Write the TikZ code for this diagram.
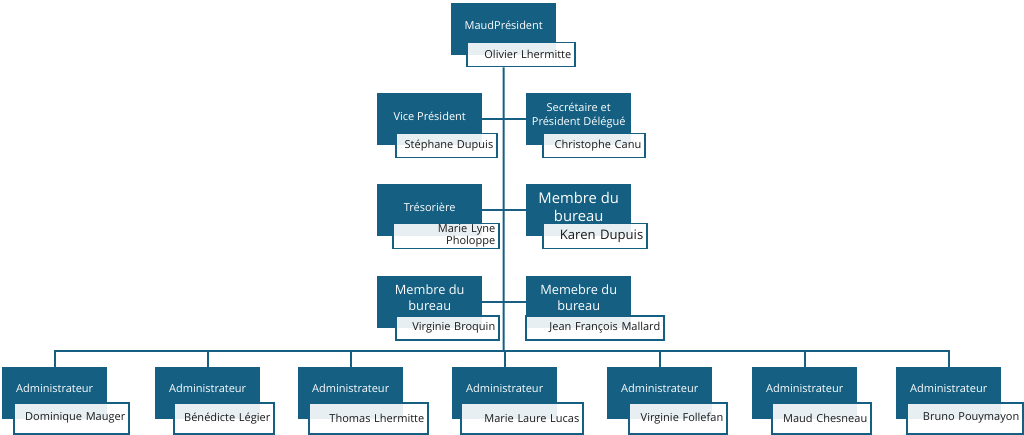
\documentclass[tikz,border=0pt]{standalone}
\usepackage{fontspec}
\setmainfont{Open Sans}
\definecolor{dk}{HTML}{156082}
\begin{document}
\begin{tikzpicture}[x=1pt,y=-1pt,
  dbox/.style={fill=dk, draw=none, anchor=north west, minimum width=105pt, minimum height=52pt, inner sep=0pt},
  ttl/.style={text=white, font=\fontsize{11}{14}\selectfont, align=center, inner sep=0pt},
  wbox/.style={draw=dk, line width=1.5pt, fill=white, fill opacity=0.9, text opacity=1, anchor=north west,
    align=right, inner xsep=3.5pt, inner ysep=0pt, font=\fontsize{11}{13}\selectfont, text=black!90},
  link/.style={draw=dk, line width=2pt}]
\useasboundingbox (0,0) rectangle (1024,435);

% top
\node[dbox] (p) at (451,3) {};
\node[ttl] (pt) at ([yshift=-22pt]p.north) {MaudPrésident};
\node[wbox, minimum width=108pt, minimum height=24pt, text width=101pt] (pw) at (466,42) {Olivier Lhermitte};

% row 2
\node[dbox] (vp) at (377,93) {};
\node[ttl] (vpt) at ([yshift=-23pt]vp.north) {Vice Président};
\node[wbox, minimum width=101pt, minimum height=24pt, text width=94pt] (vpw) at (395,133) {Stéphane Dupuis};
\node[dbox] (sec) at (526,93) {};
\node[ttl] (sect) at ([yshift=-23pt]sec.north) {Secrétaire et\\Président Délégué};
\node[wbox, minimum width=102pt, minimum height=24pt, text width=95pt] (secw) at (542,133) {Christophe Canu};

% row 3
\node[dbox] (tr) at (377,184) {};
\node[ttl] (trt) at ([yshift=-23pt]tr.north) {Trésorière};
\node[wbox, minimum width=106pt, minimum height=25pt, text width=99pt, font=\fontsize{11}{12}\selectfont] (trw) at (392,223) {Marie Lyne\\Pholoppe};
\node[dbox] (mb1) at (526,184) {};
\node[ttl, font=\fontsize{14.8}{18}\selectfont] (mb1t) at ([yshift=-23pt]mb1.north) {Membre du\\bureau};
\node[wbox, minimum width=104pt, minimum height=25pt, text width=97pt, font=\fontsize{13.1}{15}\selectfont] (mb1w) at (542,223) {Karen Dupuis};

% row 4
\node[dbox] (mb2) at (377,276) {};
\node[ttl, font=\fontsize{12.8}{16}\selectfont] (mb2t) at ([yshift=-22pt]mb2.north) {Membre du\\bureau};
\node[wbox, minimum width=103pt, minimum height=24pt, text width=96pt] (mb2w) at (395,315) {Virginie Broquin};
\node[dbox] (mb3) at (526,276) {};
\node[ttl, font=\fontsize{12.8}{16}\selectfont] (mb3t) at ([yshift=-22pt]mb3.north) {Memebre du\\bureau};
\node[wbox, minimum width=138pt, minimum height=24pt, text width=131pt] (mb3w) at (525,315) {Jean François Mallard};

% administrators
\node[dbox] (a1) at (2,367) {};
\node[ttl] (a1t) at ([yshift=-21pt]a1.north) {Administrateur};
\node[wbox, minimum width=115pt, minimum height=31pt, text width=108pt] (a1w) at (13,402) {Dominique Mauger};
\node[dbox] (a2) at (155,367) {};
\node[ttl] (a2t) at ([yshift=-21pt]a2.north) {Administrateur};
\node[wbox, minimum width=100pt, minimum height=31pt, text width=93pt] (a2w) at (173,402) {Bénédicte Légier};
\node[dbox] (a3) at (298,367) {};
\node[ttl] (a3t) at ([yshift=-21pt]a3.north) {Administrateur};
\node[wbox, minimum width=119pt, minimum height=31pt, text width=112pt] (a3w) at (308,402) {Thomas Lhermitte};
\node[dbox] (a4) at (452,367) {};
\node[ttl] (a4t) at ([yshift=-21pt]a4.north) {Administrateur};
\node[wbox, minimum width=122pt, minimum height=31pt, text width=115pt] (a4w) at (460,402) {Marie Laure Lucas};
\node[dbox] (a5) at (607,367) {};
\node[ttl] (a5t) at ([yshift=-21pt]a5.north) {Administrateur};
\node[wbox, minimum width=98pt, minimum height=31pt, text width=91pt] (a5w) at (628,402) {Virginie Follefan};
\node[dbox] (a6) at (752,367) {};
\node[ttl] (a6t) at ([yshift=-21pt]a6.north) {Administrateur};
\node[wbox, minimum width=99pt, minimum height=31pt, text width=92pt] (a6w) at (771,402) {Maud Chesneau};
\node[dbox] (a7) at (896,367) {};
\node[ttl] (a7t) at ([yshift=-21pt]a7.north) {Administrateur};
\node[wbox, minimum width=116pt, minimum height=31pt, text width=109pt] (a7w) at (906,402) {Bruno Pouymayon};

% connectors
\coordinate (bus) at (503.5,351);
\draw[link] (p.south |- pw.south) -- (bus);
\draw[link] (vp.east) -- (sec.west);
\draw[link] (tr.east) -- (mb1.west);
\draw[link] (mb2.east) -- (mb3.west);
\draw[link] (a1.north) -- (a1.north |- bus) -- (a7.north |- bus) -- (a7.north);
\foreach \n in {a2,a3,a4,a5,a6}{\draw[link] (\n.north) -- (\n.north |- bus);}
\end{tikzpicture}
\end{document}
